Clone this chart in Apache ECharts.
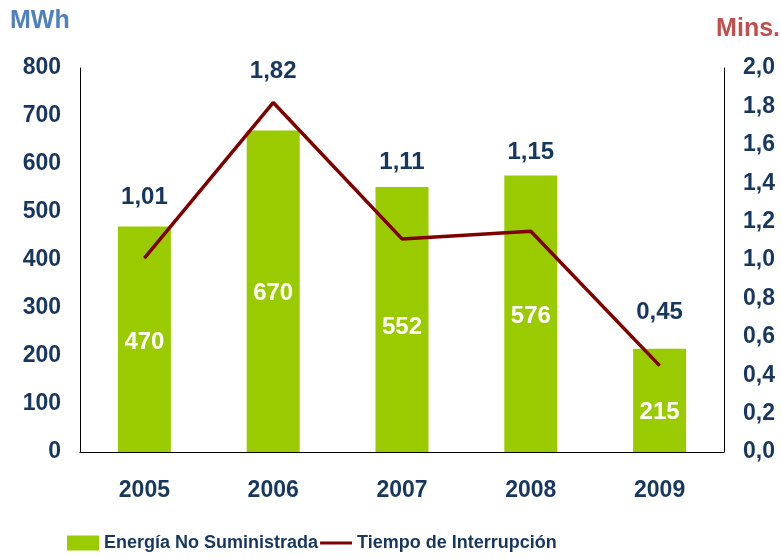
<!DOCTYPE html>
<html>
<head>
<meta charset="utf-8">
<script src="https://cdn.jsdelivr.net/npm/echarts@6/dist/echarts.min.js"></script>
<style>
  html, body { margin: 0; padding: 0; background: #fff; }
  #main { width: 781px; height: 557px; }
</style>
</head>
<body>
<div id="main"></div>
<script>
    // datos del gráfico
    var years = ['2005', '2006', '2007', '2008', '2009'];
    var energia = [470, 670, 552, 576, 215];
    var tiempo = [1.01, 1.82, 1.11, 1.15, 0.45];
    var mwhTicks = [0, 100, 200, 300, 400, 500, 600, 700, 800];
    var minTicks = [0, 0.2, 0.4, 0.6, 0.8, 1.0, 1.2, 1.4, 1.6, 1.8, 2.0];

    // desplazamiento de las etiquetas (estilo)
    var barLabelShift = [3, 2, 8, 3, 12];
    var lineLabelShift = [-61, -31, -77, -79, -53];

    var azul = '#17375E';
    var fuente = 'Liberation Sans, Arial, sans-serif';

    function coma(v) {
        return v.toFixed(2).replace('.', ',');
    }

    var myChart = echarts.init(document.getElementById('main'));

    var option = {
        animation: false,
        textStyle: { fontFamily: fuente, fontWeight: 'bold', color: azul },
        grid: { left: 80, right: 57, top: 68, bottom: 105 },
        graphic: [
            { type: 'text', left: 10, top: 9,
              style: { text: 'MWh', fill: '#4F81BD', font: 'bold 25px ' + fuente } },
            { type: 'text', right: 1, top: 17,
              style: { text: 'Mins.', fill: '#C0504D', font: 'bold 25px ' + fuente } }
        ],
        legend: {
            left: 62,
            bottom: 0,
            itemGap: 2,
            itemWidth: 32,
            itemHeight: 15,
            textStyle: { fontFamily: fuente, fontWeight: 'bold', fontSize: 18, color: azul },
            data: [
                { name: 'Energía No Suministrada', icon: 'rect' },
                { name: 'Tiempo de Interrupción', icon: 'path://M0,0 L32,0 L32,3 L0,3 Z' }
            ]
        },
        xAxis: {
            type: 'category',
            data: years,
            axisLine: { lineStyle: { color: '#000', width: 1 } },
            axisTick: { show: false },
            axisLabel: { margin: 27, fontSize: 23, fontWeight: 'bold', color: azul, fontFamily: fuente }
        },
        yAxis: [{
            type: 'value',
            min: mwhTicks[0],
            max: mwhTicks[mwhTicks.length - 1],
            interval: 100,
            axisLine: { show: true, lineStyle: { color: '#000', width: 1 } },
            axisTick: { show: false },
            splitLine: { show: false },
            axisLabel: { margin: 19, fontSize: 23, fontWeight: 'bold', color: azul, fontFamily: fuente }
        }, {
            type: 'value',
            min: minTicks[0],
            max: minTicks[minTicks.length - 1],
            interval: 0.2,
            axisLine: { show: true, lineStyle: { color: '#000', width: 1 } },
            axisTick: { show: false },
            splitLine: { show: false },
            axisLabel: {
                margin: 19, fontSize: 23, fontWeight: 'bold', color: azul, fontFamily: fuente,
                formatter: function (v) { return v.toFixed(1).replace('.', ','); }
            }
        }],
        series: [{
            name: 'Energía No Suministrada',
            type: 'bar',
            barWidth: 53,
            itemStyle: { color: '#9ACA00' },
            data: energia.map(function (v, i) {
                return { value: v, label: { offset: [0, barLabelShift[i]] } };
            }),
            label: {
                show: true, position: 'inside', color: '#fff', fontSize: 24,
                fontWeight: 'bold', fontFamily: fuente
            }
        }, {
            name: 'Tiempo de Interrupción',
            type: 'line',
            yAxisIndex: 1,
            symbol: 'circle',
            symbolSize: 1,
            showSymbol: true,
            lineStyle: { color: '#800000', width: 3.5 },
            itemStyle: { color: '#800000' },
            data: tiempo.map(function (v, i) {
                return { value: v, label: { offset: [0, lineLabelShift[i]] } };
            }),
            label: {
                show: true, position: 'inside', color: azul, fontSize: 24,
                fontWeight: 'bold', fontFamily: fuente,
                formatter: function (p) { return coma(p.value); }
            }
        }]
    };

    myChart.setOption(option);
</script>
</body>
</html>
